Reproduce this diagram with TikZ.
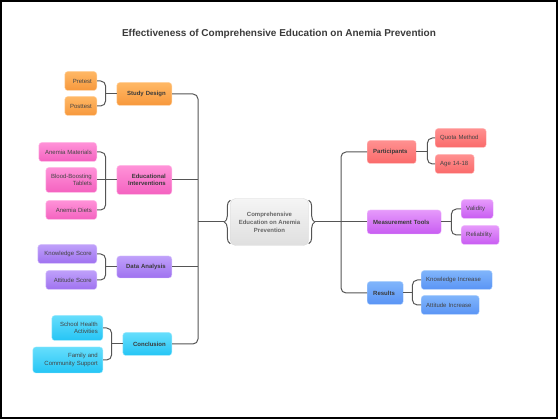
\documentclass[tikz,border=0pt]{standalone}
\usepackage{fontspec}
\setmainfont{Liberation Sans}
\usetikzlibrary{decorations.pathreplacing}

\definecolor{titlegray}{HTML}{3A3A3A}
\definecolor{textgray}{HTML}{444444}
\definecolor{linegray}{HTML}{555555}
\definecolor{studytop}{HTML}{FFB865}
\definecolor{studybot}{HTML}{F7983C}
\definecolor{edutop}{HTML}{FF92D8}
\definecolor{edubot}{HTML}{F462C0}
\definecolor{datatop}{HTML}{BFA0FA}
\definecolor{databot}{HTML}{9F72F0}
\definecolor{concltop}{HTML}{66DEFC}
\definecolor{conclbot}{HTML}{25C5F5}
\definecolor{parttop}{HTML}{FF9090}
\definecolor{partbot}{HTML}{FA6A6A}
\definecolor{meastop}{HTML}{E69AFB}
\definecolor{measbot}{HTML}{C85CF2}
\definecolor{restop}{HTML}{80B5FB}
\definecolor{resbot}{HTML}{5A94F5}

\tikzstyle{box} = [rounded corners=3pt, inner xsep=5pt, inner ysep=1pt, text=textgray, font=\fontsize{6}{7.4}\selectfont]
\tikzstyle{leafL} = [box, align=right, anchor=east, minimum height=19pt]
\tikzstyle{leafR} = [box, align=left, anchor=west, minimum height=19pt]
\tikzstyle{branchL} = [box, inner xsep=6pt, align=right, anchor=east, minimum height=23pt, text=titlegray, font=\fontsize{6}{7.6}\selectfont\bfseries]
\tikzstyle{branchR} = [box, inner xsep=6pt, align=left, anchor=west, minimum height=23pt, text=titlegray, font=\fontsize{6}{7.6}\selectfont\bfseries]
\tikzstyle{studyfill} = [top color=studytop, bottom color=studybot, draw=studytop!60!white, line width=0.4pt]
\tikzstyle{edufill} = [top color=edutop, bottom color=edubot, draw=edutop!60!white, line width=0.4pt]
\tikzstyle{datafill} = [top color=datatop, bottom color=databot, draw=datatop!60!white, line width=0.4pt]
\tikzstyle{conclfill} = [top color=concltop, bottom color=conclbot, draw=concltop!60!white, line width=0.4pt]
\tikzstyle{partfill} = [top color=parttop, bottom color=partbot, draw=parttop!60!white, line width=0.4pt]
\tikzstyle{measfill} = [top color=meastop, bottom color=measbot, draw=meastop!60!white, line width=0.4pt]
\tikzstyle{resfill} = [top color=restop, bottom color=resbot, draw=restop!60!white, line width=0.4pt]
\tikzstyle{link} = [draw=linegray, line width=1pt, rounded corners=5pt]
\tikzstyle{bracket} = [draw=linegray, line width=1pt, decorate, decoration={brace, amplitude=6pt}]

\begin{document}
\begin{tikzpicture}[x=1pt, y=-1pt]
\useasboundingbox (0,0) rectangle (558,419);
\draw[black, line width=1.6pt] (0.8,0.8) rectangle (557.2,418.2);

\node (title) at (279,34) [font=\fontsize{10}{12}\selectfont\bfseries, text=titlegray] {Effectiveness of Comprehensive Education on Anemia Prevention};

% centre
\node (centre) at (269.5,222) [minimum width=78pt, minimum height=47pt, rounded corners=5pt, top color=gray!8, bottom color=gray!25, draw=gray!30, align=center, text=gray!80!black, font=\fontsize{6}{8}\selectfont\bfseries] {Comprehensive\\Education on Anemia\\Prevention};
\draw[bracket] ([yshift=2pt]centre.south west) -- ([yshift=-2pt]centre.north west);
\draw[bracket] ([yshift=-2pt]centre.north east) -- ([yshift=2pt]centre.south east);
\coordinate (cw) at ([xshift=-6pt]centre.west);
\coordinate (ce) at ([xshift=6pt]centre.east);

% left branches
\node (study) at (172,94) [branchL, studyfill, text width=43pt] {Study Design};
\node (edu) at (172,180) [branchL, edufill, text width=43pt, minimum height=29pt] {Educational\\Interventions};
\node (data) at (172,267) [branchL, datafill, text width=43pt, minimum height=22pt] {Data Analysis};
\node (concl) at (172,344) [branchL, conclfill, text width=37pt] {Conclusion};

\node (pre) at (97,81) [leafL, studyfill, text width=22pt] {Pretest};
\node (post) at (97,106) [leafL, studyfill, text width=22pt] {Posttest};
\node (mat) at (97,152) [leafL, edufill, text width=48pt] {Anemia Materials};
\node (tab) at (97,180) [leafL, edufill, text width=41pt, minimum height=25pt] {Blood-Boosting\\Tablets};
\node (diet) at (97,210) [leafL, edufill, text width=41pt] {Anemia Diets};
\node (know) at (97,254) [leafL, datafill, text width=49pt] {Knowledge Score};
\node (att) at (97,280) [leafL, datafill, text width=41pt] {Attitude Score};
\node (school) at (103,328) [leafL, conclfill, text width=41pt, minimum height=25pt] {School Health\\Activities};
\node (family) at (103,360) [leafL, conclfill, text width=60pt, minimum height=26pt] {Family and\\Community Support};

% right branches
\node (part) at (367,152) [branchR, partfill, text width=37pt] {Participants};
\node (meas) at (367,222) [branchR, measfill, text width=62pt, minimum height=24pt] {Measurement Tools};
\node (res) at (367,293) [branchR, resfill, text width=24pt] {Results};

\node (quota) at (435,138) [leafR, partfill, text width=41pt] {Quota Method};
\node (age) at (435,164) [leafR, partfill, text width=29pt] {\mbox{Age 14-18}};
\node (valid) at (461,209) [leafR, measfill, text width=22pt] {Validity};
\node (rel) at (461,235) [leafR, measfill, text width=28pt] {Reliability};
\node (kinc) at (421,280) [leafR, resfill, text width=61pt] {Knowledge Increase};
\node (ainc) at (421,305) [leafR, resfill, text width=48pt] {Attitude Increase};

% junctions
\coordinate (jstudy) at ([xshift=-11pt]study.west);
\coordinate (jedu) at ([xshift=-11pt]edu.west);
\coordinate (jdata) at ([xshift=-11pt]data.west);
\coordinate (jconcl) at ([xshift=-11pt]concl.west);
\coordinate (jpart) at ([xshift=11pt]part.east);
\coordinate (jmeas) at ([xshift=10pt]meas.east);
\coordinate (jres) at ([xshift=9pt]res.east);
\coordinate (lt) at (198,222);
\coordinate (rt) at (341,222);

% connectors
\draw[link] (pre.east) -| (jstudy) |- (post.east);
\draw[link] (jstudy) -- (study.west);
\draw[link] (mat.east) -| (jedu) |- (diet.east);
\draw[link] (tab.east) -- (edu.west);
\draw[link] (know.east) -| (jdata) |- (att.east);
\draw[link] (jdata) -- (data.west);
\draw[link] (school.east) -| (jconcl) |- (family.east);
\draw[link] (jconcl) -- (concl.west);
\draw[link] (study.east) -| (lt) |- (concl.east);
\draw[link] (edu.east) -- (edu.east -| lt);
\draw[link] (data.east) -- (data.east -| lt);
\draw[link] (cw) -- (lt);
\draw[link] (ce) -- (rt);
\draw[link] (part.west) -| (rt) |- (res.west);
\draw[link] (meas.west) -- (rt);
\draw[link] (part.east) -- (jpart);
\draw[link] (quota.west) -| (jpart) |- (age.west);
\draw[link] (meas.east) -- (jmeas);
\draw[link] (valid.west) -| (jmeas) |- (rel.west);
\draw[link] (res.east) -- (jres);
\draw[link] (kinc.west) -| (jres) |- (ainc.west);
\end{tikzpicture}
\end{document}
